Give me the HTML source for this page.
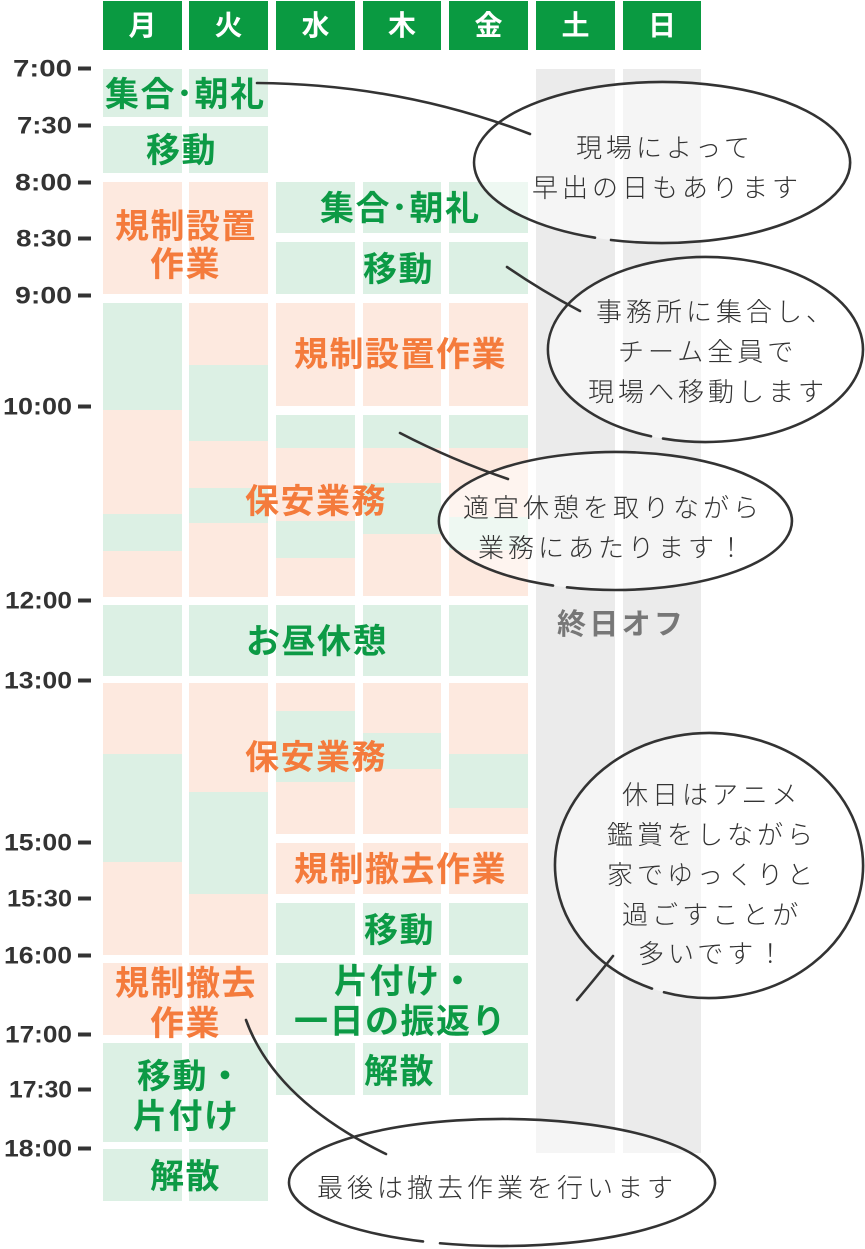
<!DOCTYPE html>
<html lang="ja">
<head>
<meta charset="utf-8">
<style>
  html, body { margin:0; padding:0; background:#fff; }
  body { width:865px; height:1249px; overflow:hidden; }
  svg { display:block; }
  .tm { font-family:"Liberation Sans", sans-serif; font-weight:700; font-size:24px; fill:#333; }
  .hd { font-family:"Liberation Sans","Noto Sans CJK JP",sans-serif; font-weight:700; font-size:28px; fill:#fff; }
  .bk { font-family:"Liberation Sans","Noto Sans CJK JP",sans-serif; font-weight:700; font-size:34px; letter-spacing:1.5px; }
  .gt { fill:#0c9a45; }
  .ot { fill:#f47b3c; }
  .bt { font-family:"Liberation Sans","Noto Sans CJK JP",sans-serif; font-weight:300; font-size:26px; letter-spacing:4px; fill:#333; }
  .off { font-family:"Liberation Sans","Noto Sans CJK JP",sans-serif; font-weight:700; font-size:29px; letter-spacing:3.3px; fill:#777; }
</style>
</head>
<body>
<svg width="865" height="1249" viewBox="0 0 865 1249" xmlns="http://www.w3.org/2000/svg">
  <!-- header -->
  <g fill="#0a9a41">
    <rect x="103" y="1" width="79" height="49"/>
    <rect x="189" y="1" width="79" height="49"/>
    <rect x="276" y="1" width="79" height="49"/>
    <rect x="363" y="1" width="78" height="49"/>
    <rect x="449" y="1" width="79" height="49"/>
    <rect x="536" y="1" width="79" height="49"/>
    <rect x="623" y="1" width="78" height="49"/>
  </g>
  <g class="hd" text-anchor="middle">
    <text x="142.5" y="35">月</text>
    <text x="228.5" y="35">火</text>
    <text x="315.5" y="35">水</text>
    <text x="402" y="35">木</text>
    <text x="488.5" y="35">金</text>
    <text x="575.5" y="35">土</text>
    <text x="662" y="35">日</text>
  </g>

  <!-- weekend gray columns -->
  <g fill="#ebebeb">
    <rect x="536" y="69" width="79" height="1084"/>
    <rect x="623" y="69" width="78" height="1084"/>
  </g>

  <!-- green blocks -->
  <g fill="#dcf0e4">
    <rect x="103" y="69" width="79" height="48"/><rect x="189" y="69" width="79" height="48"/>
    <rect x="103" y="126" width="79" height="47"/><rect x="189" y="126" width="79" height="47"/>
    <rect x="103" y="303" width="79" height="107"/>
    <rect x="103" y="514" width="79" height="37"/>
    <rect x="189" y="365" width="79" height="76"/>
    <rect x="189" y="488" width="79" height="35"/>
    <rect x="103" y="754" width="79" height="108"/>
    <rect x="189" y="792" width="79" height="102"/>
    <rect x="103" y="1043" width="79" height="99"/><rect x="189" y="1043" width="79" height="99"/>
    <rect x="103" y="1149" width="79" height="52"/><rect x="189" y="1149" width="79" height="52"/>
    <rect x="276" y="182" width="79" height="51"/><rect x="363" y="182" width="78" height="51"/><rect x="449" y="182" width="79" height="51"/>
    <rect x="276" y="242" width="79" height="52"/><rect x="363" y="242" width="78" height="52"/><rect x="449" y="242" width="79" height="52"/>
    <rect x="276" y="415" width="79" height="33"/><rect x="363" y="415" width="78" height="33"/><rect x="449" y="415" width="79" height="33"/>
    <rect x="276" y="521" width="79" height="37"/>
    <rect x="363" y="483" width="78" height="51"/>
    <rect x="449" y="517" width="79" height="33"/>
    <rect x="103" y="605" width="79" height="71"/><rect x="189" y="605" width="79" height="71"/>
    <rect x="276" y="605" width="79" height="71"/><rect x="363" y="605" width="78" height="71"/><rect x="449" y="605" width="79" height="71"/>
    <rect x="276" y="711" width="79" height="71"/>
    <rect x="363" y="733" width="78" height="36"/>
    <rect x="449" y="754" width="79" height="54"/>
    <rect x="276" y="903" width="79" height="52"/><rect x="363" y="903" width="78" height="52"/><rect x="449" y="903" width="79" height="52"/>
    <rect x="276" y="963" width="79" height="72"/><rect x="363" y="963" width="78" height="72"/><rect x="449" y="963" width="79" height="72"/>
    <rect x="276" y="1043" width="79" height="52"/><rect x="363" y="1043" width="78" height="52"/><rect x="449" y="1043" width="79" height="52"/>
  </g>

  <!-- peach blocks -->
  <g fill="#fde9df">
    <rect x="103" y="182" width="79" height="112"/><rect x="189" y="182" width="79" height="112"/>
    <rect x="103" y="410" width="79" height="104"/>
    <rect x="103" y="551" width="79" height="46"/>
    <rect x="189" y="303" width="79" height="62"/>
    <rect x="189" y="441" width="79" height="47"/>
    <rect x="189" y="523" width="79" height="74"/>
    <rect x="276" y="303" width="79" height="103"/><rect x="363" y="303" width="78" height="103"/><rect x="449" y="303" width="79" height="103"/>
    <rect x="276" y="448" width="79" height="73"/>
    <rect x="276" y="558" width="79" height="38"/>
    <rect x="363" y="448" width="78" height="35"/>
    <rect x="363" y="534" width="78" height="62"/>
    <rect x="449" y="448" width="79" height="69"/>
    <rect x="449" y="550" width="79" height="46"/>
    <rect x="103" y="683" width="79" height="71"/>
    <rect x="103" y="862" width="79" height="93"/>
    <rect x="189" y="683" width="79" height="109"/>
    <rect x="189" y="894" width="79" height="61"/>
    <rect x="276" y="683" width="79" height="28"/>
    <rect x="276" y="782" width="79" height="52"/>
    <rect x="363" y="683" width="78" height="50"/>
    <rect x="363" y="769" width="78" height="65"/>
    <rect x="449" y="683" width="79" height="71"/>
    <rect x="449" y="808" width="79" height="26"/>
    <rect x="276" y="843" width="79" height="51"/><rect x="363" y="843" width="78" height="51"/><rect x="449" y="843" width="79" height="51"/>
    <rect x="103" y="963" width="79" height="72"/><rect x="189" y="963" width="79" height="72"/>
  </g>

  <!-- time labels -->
  <g class="tm">
    <text x="13" y="76.5" textLength="59" lengthAdjust="spacingAndGlyphs">7:00</text>
    <text x="17" y="133.5" textLength="55" lengthAdjust="spacingAndGlyphs">7:30</text>
    <text x="15" y="190.5" textLength="57" lengthAdjust="spacingAndGlyphs">8:00</text>
    <text x="16" y="246.5" textLength="56" lengthAdjust="spacingAndGlyphs">8:30</text>
    <text x="15" y="303.5" textLength="57" lengthAdjust="spacingAndGlyphs">9:00</text>
    <text x="3" y="414.5" textLength="69" lengthAdjust="spacingAndGlyphs">10:00</text>
    <text x="5" y="608.5" textLength="67" lengthAdjust="spacingAndGlyphs">12:00</text>
    <text x="4" y="688.5" textLength="68" lengthAdjust="spacingAndGlyphs">13:00</text>
    <text x="4" y="850.5" textLength="68" lengthAdjust="spacingAndGlyphs">15:00</text>
    <text x="7" y="906.5" textLength="65" lengthAdjust="spacingAndGlyphs">15:30</text>
    <text x="4" y="963.5" textLength="68" lengthAdjust="spacingAndGlyphs">16:00</text>
    <text x="5" y="1042.5" textLength="67" lengthAdjust="spacingAndGlyphs">17:00</text>
    <text x="9" y="1097.5" textLength="63" lengthAdjust="spacingAndGlyphs">17:30</text>
    <text x="4" y="1156.5" textLength="68" lengthAdjust="spacingAndGlyphs">18:00</text>
  </g>
  <g fill="#333">
    <rect x="78" y="66.5" width="13" height="4"/>
    <rect x="78" y="123.5" width="13" height="4"/>
    <rect x="78" y="180.5" width="13" height="4"/>
    <rect x="78" y="236.5" width="13" height="4"/>
    <rect x="78" y="293.5" width="13" height="4"/>
    <rect x="78" y="404.5" width="13" height="4"/>
    <rect x="78" y="598.5" width="13" height="4"/>
    <rect x="78" y="678.5" width="13" height="4"/>
    <rect x="78" y="840.5" width="13" height="4"/>
    <rect x="78" y="896.5" width="13" height="4"/>
    <rect x="78" y="953.5" width="13" height="4"/>
    <rect x="78" y="1032.5" width="13" height="4"/>
    <rect x="78" y="1087.5" width="13" height="4"/>
    <rect x="78" y="1146.5" width="13" height="4"/>
  </g>

  <!-- block texts -->
  <g class="bk gt">
    <text x="105" y="105.9">集合･朝礼</text>
    <text x="146" y="161.9">移動</text>
    <text x="320" y="219.9">集合･朝礼</text>
    <text x="363" y="280.9">移動</text>
    <text x="246" y="652.9">お昼休憩</text>
    <text x="364" y="941.9">移動</text>
    <text x="334" y="992.9">片付け・</text>
    <text x="294" y="1032.9">一日の振返り</text>
    <text x="364" y="1082.9">解散</text>
    <text x="137" y="1087.9">移動・</text>
    <text x="133" y="1127.9">片付け</text>
    <text x="150" y="1187.9">解散</text>
  </g>
  <g class="bk ot">
    <text x="115" y="237.9">規制設置</text>
    <text x="150" y="275.9">作業</text>
    <text x="294" y="365.9">規制設置作業</text>
    <text x="245" y="512.9">保安業務</text>
    <text x="245" y="768.9">保安業務</text>
    <text x="294" y="880.9">規制撤去作業</text>
    <text x="115" y="994.9">規制撤去</text>
    <text x="150" y="1034.9">作業</text>
  </g>

  <text class="off" x="557" y="634">終日オフ</text>

  <!-- bubble fills -->
  <g fill="rgba(255,255,255,0.5)" stroke="none">
    <ellipse cx="662" cy="162.5" rx="188" ry="80.5"/>
    <ellipse cx="705.5" cy="349.5" rx="157.5" ry="92.5"/>
    <ellipse cx="615.5" cy="521" rx="176.5" ry="69"/>
    <ellipse cx="502" cy="1182.5" rx="213" ry="63.5"/>
    <ellipse cx="709" cy="865.5" rx="154" ry="132.5"/>
  </g>

  <!-- connectors -->
  <g fill="none" stroke="#333" stroke-width="2.6" stroke-linecap="round">
    <path d="M257,83 Q400,84 530,134"/>
    <path d="M507,267 Q542,291 580,311"/>
    <path d="M400,433 Q452,460 508,479"/>
    <path d="M246,1020 Q275,1100 386,1154"/>
    <path d="M577,1000 Q598,975 613,956"/>
  </g>

  <!-- bubble outlines with gap -->
  <g fill="none" stroke="#333" stroke-width="2.6" stroke-linecap="round">
    <path d="M611,239.98 A188,80.5 0 1 0 595,237.71"/>
    <path d="M663,438.57 A157.5,92.5 0 1 0 651,436.29"/>
    <path d="M567,587.34 A176.5,69 0 1 0 553,585.53"/>
    <path d="M440,1243.25 A213,63.5 0 1 0 423,1241.47"/>
    <path d="M664,992.22 A154,132.5 0 1 0 652,988.59"/>
  </g>

  <!-- bubble texts -->
  <g class="bt">
    <text x="576" y="157">現場によって</text>
    <text x="532" y="197">早出の日もあります</text>
    <text x="596" y="321">事務所に集合し、</text>
    <text x="618" y="361">チーム全員で</text>
    <text x="588" y="401">現場へ移動します</text>
    <text x="463" y="517">適宜休憩を取りながら</text>
    <text x="478" y="557">業務にあたります！</text>
    <text x="317" y="1197">最後は撤去作業を行います</text>
    <text x="622" y="804">休日はアニメ</text>
    <text x="607" y="844">鑑賞をしながら</text>
    <text x="607" y="884">家でゆっくりと</text>
    <text x="622" y="924">過ごすことが</text>
    <text x="638" y="963">多いです！</text>
  </g>
</svg>
</body>
</html>
